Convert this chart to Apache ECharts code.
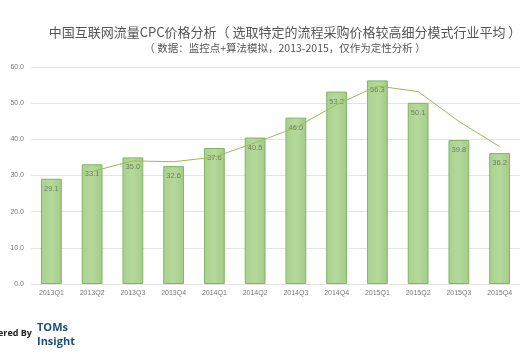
<!DOCTYPE html>
<html><head><meta charset="utf-8">
<script src="https://cdn.jsdelivr.net/npm/echarts@6/dist/echarts.min.js"></script>
<style>html,body{margin:0;padding:0;background:#fff}#c{width:524px;height:356px}</style>
</head><body><div id="c"></div>
<script>
const categories = ['2013Q1','2013Q2','2013Q3','2013Q4','2014Q1','2014Q2','2014Q3','2014Q4','2015Q1','2015Q2','2015Q3','2015Q4'];
const cpcValues = [29.1,33.1,35.0,32.6,37.6,40.5,46.0,53.2,56.3,50.1,39.8,36.2];
const trendValues = [null,31.1,34.05,33.8,35.1,39.05,43.25,49.6,54.75,53.2,44.95,38.0];
const yTicks = [0,10,20,30,40,50,60];

const chart = echarts.init(document.getElementById('c'));
chart.setOption({
  backgroundColor:'#fff',
  animation:false,
  title:[
    {text:'中国互联网流量CPC价格分析（ 选取特定的流程采购价格较高细分模式行业平均 ）',left:280,textAlign:'center',top:21,
     textStyle:{fontSize:13,fontWeight:'normal',color:'#555',fontFamily:'Noto Sans CJK SC'}},
    {text:'（ 数据：监控点+算法模拟，2013-2015，仅作为定性分析 ）',left:280,textAlign:'center',top:38,
     textStyle:{fontSize:10.5,fontWeight:'normal',color:'#555',fontFamily:'Noto Sans CJK SC'}}
  ],
  graphic:[
    {type:'text',left:-2,top:329,style:{text:'ered By',fontSize:9,fontWeight:'bold',fill:'#222',fontFamily:'Open Sans'}},
    {type:'text',left:37,top:322,style:{text:'TOMs',fontSize:11,fontWeight:'bold',fill:'#1f4e79',fontFamily:'Open Sans'}},
    {type:'text',left:37,top:336,style:{text:'Insight',fontSize:11,fontWeight:'bold',fill:'#1f4e79',fontFamily:'Open Sans'}}
  ],
  grid:{left:31,right:4,top:67,bottom:72,containLabel:false},
  xAxis:{type:'category',data:categories,
    axisLine:{show:false},axisTick:{show:false},
    axisLabel:{fontSize:7,color:'#777',margin:6,fontFamily:'Liberation Sans'}},
  yAxis:{type:'value',min:0,max:60,interval:10,
    axisLabel:{fontSize:7,color:'#777',margin:7,formatter:v=>v.toFixed(1),fontFamily:'Liberation Sans'},
    splitLine:{lineStyle:{color:'#e4e4e4',width:1}}},
  series:[
    {type:'bar',data:cpcValues,barWidth:'51%',
     itemStyle:{color:new echarts.graphic.LinearGradient(0,0,1,0,[{offset:0,color:'#a9d18e'},{offset:0.5,color:'#b5d99c'},{offset:1,color:'#a3cc87'}]),
       borderColor:'#82b366',borderWidth:1},
     label:{show:true,position:'insideTop',distance:6,fontSize:7.5,color:'#6f7f62',formatter:p=>p.value.toFixed(1),fontFamily:'Liberation Sans'}},
    {type:'line',data:trendValues,showSymbol:false,symbol:'none',
     lineStyle:{color:'#9bbb59',width:1},z:5}
  ]
});
</script></body></html>
